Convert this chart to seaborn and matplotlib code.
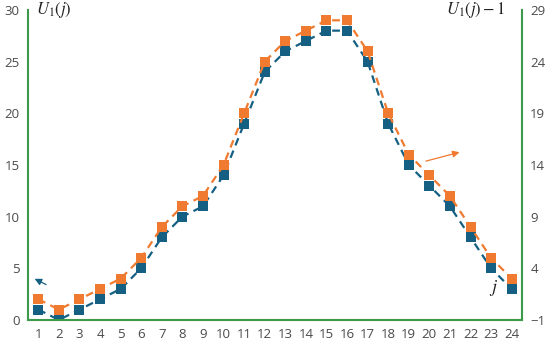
import numpy as np
import pandas as pd
import matplotlib
matplotlib.use("Agg")
import matplotlib.pyplot as plt
import seaborn as sns

# data
j_values = list(range(1, 25))
u1 = [1, 0, 1, 2, 3, 5, 8, 10, 11, 14, 19, 24, 26, 27, 28, 28, 25, 19, 15, 13, 11, 8, 5, 3]
u1_shifted = [2, 1, 2, 3, 4, 6, 9, 11, 12, 15, 20, 25, 27, 28, 29, 29, 26, 20, 16, 14, 12, 9, 6, 4]
left_ticks = [0, 5, 10, 15, 20, 25, 30]
right_labels = [-1, 4, 9, 14, 19, 24, 29]

blue = "#156082"
orange = "#F07A2F"
green = "#3C9A4A"
text_gray = "#4a4a4a"

sns.set_theme(style="white")
plt.rcParams["font.family"] = ["Open Sans", "DejaVu Sans"]
plt.rcParams["mathtext.fontset"] = "stix"

df = pd.DataFrame({"j": j_values, "u1": u1, "u1_shifted": u1_shifted})

fig = plt.figure(figsize=(5.5, 3.44), dpi=100)
ax = fig.add_axes([0.051, 0.07, 0.898, 0.901])

sns.lineplot(data=df, x="j", y="u1", ax=ax, color=blue, marker="s",
             markersize=7.5, markeredgewidth=0, linewidth=1.6,
             dashes=False, linestyle=(0, (3.5, 2.5)))
sns.lineplot(data=df, x="j", y="u1_shifted", ax=ax, color=orange, marker="s",
             markersize=7.5, markeredgewidth=0, linewidth=1.6,
             dashes=False, linestyle=(0, (3.5, 2.5)))

ax.set_xlim(0.5, 24.5)
ax.set_ylim(0, 30)
ax.set_xticks(j_values)
ax.set_yticks(left_ticks)
ax.set_xlabel("")
ax.set_ylabel("")
ax.tick_params(axis="both", length=0, labelsize=9.5, colors=text_gray, pad=6)

for side in ["left", "right", "bottom"]:
    ax.spines[side].set_color(green)
    ax.spines[side].set_linewidth(1.5)
ax.spines["top"].set_visible(False)

ax2 = ax.twinx()
ax2.set_ylim(ax.get_ylim())
ax2.set_yticks(left_ticks)
ax2.set_yticklabels(["\u22121" if v == -1 else str(v) for v in right_labels])
ax2.tick_params(axis="y", length=0, labelsize=9.5, colors=text_gray, pad=6)
for s in ax2.spines.values():
    s.set_visible(False)

ax.text(0.9, 30, r"$U_1(j)$", fontsize=12, color="#222222", ha="left", va="center")
ax.text(23.7, 30, r"$U_1(j) - 1$", fontsize=12, color="#222222", ha="right", va="center")
ax.text(23.1, 3.1, r"$j$", fontsize=13, color="#222222", ha="center", va="center")

ax.annotate("", xy=(0.7, 4.1), xytext=(1.5, 3.3),
            arrowprops=dict(arrowstyle="-|>", color=blue, lw=0.9, mutation_scale=10))
ax.annotate("", xy=(21.6, 16.3), xytext=(19.7, 15.3),
            arrowprops=dict(arrowstyle="-|>", color=orange, lw=0.9, mutation_scale=10))

fig.savefig("out.png", dpi=100)
